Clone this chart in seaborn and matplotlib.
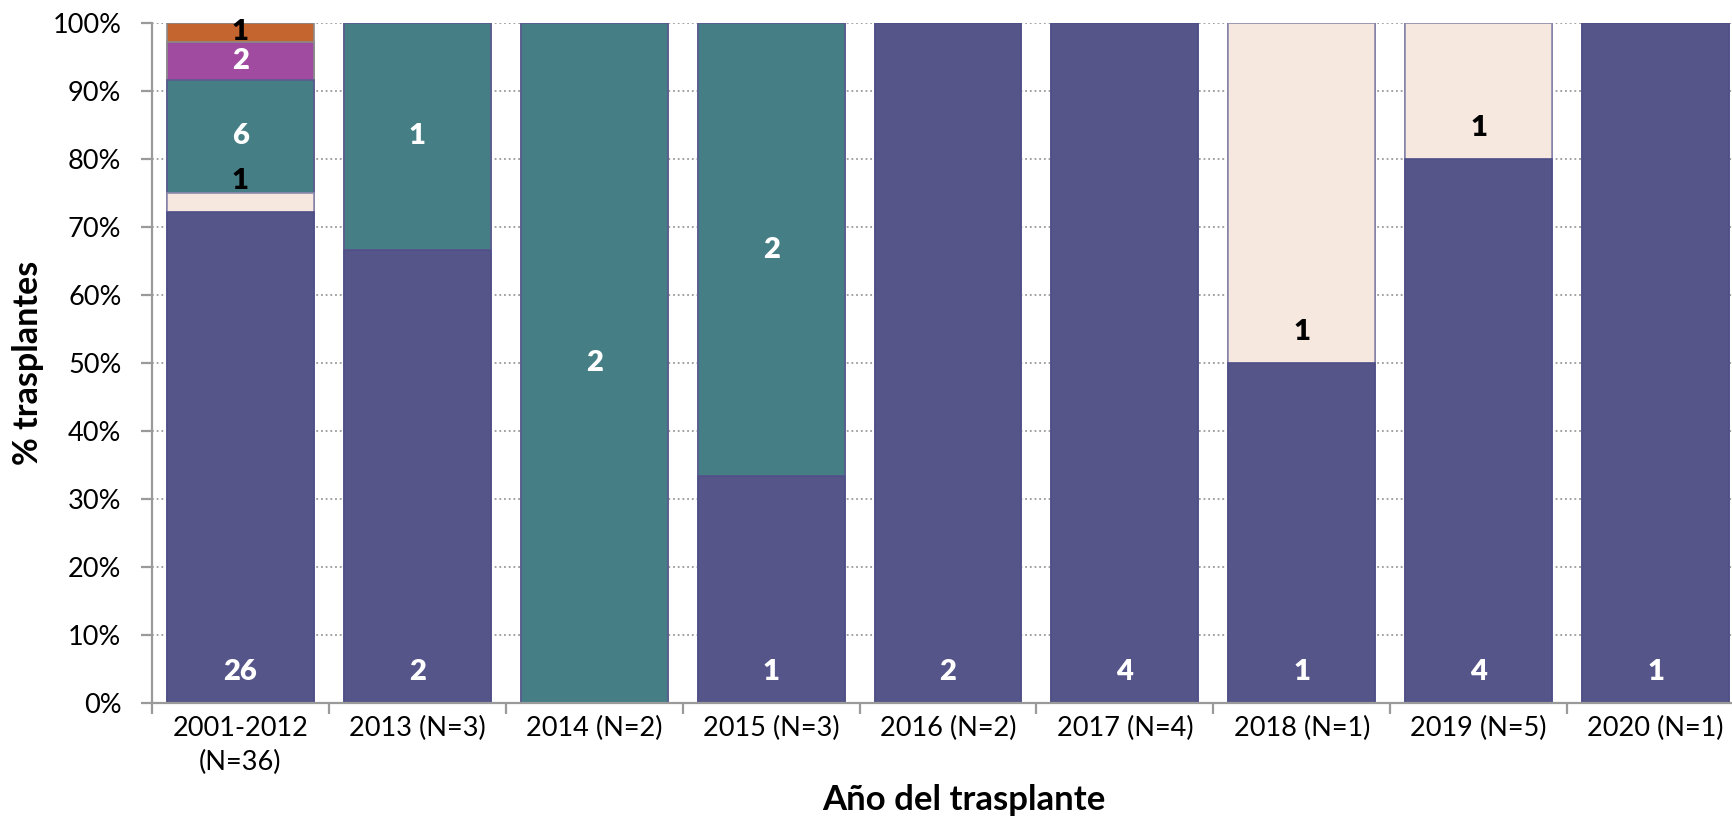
import numpy as np
import pandas as pd
import seaborn as sns
import matplotlib.pyplot as plt
from matplotlib.ticker import FixedLocator, PercentFormatter

# Transplants per period, split into five groups (stacked bottom -> top)
categorias = ["2001-2012\n(N=36)", "2013 (N=3)", "2014 (N=2)", "2015 (N=3)",
              "2016 (N=2)", "2017 (N=4)", "2018 (N=1)", "2019 (N=5)", "2020 (N=1)"]
grupo_1 = [26, 2, 0, 1, 2, 4, 1, 4, 1]
grupo_2 = [1, 0, 0, 0, 0, 0, 1, 1, 0]
grupo_3 = [6, 1, 2, 2, 0, 0, 0, 0, 0]
grupo_4 = [2, 0, 0, 0, 0, 0, 0, 0, 0]
grupo_5 = [1, 0, 0, 0, 0, 0, 0, 0, 0]

sns.set_theme(style="white")
plt.rcParams['font.family'] = ['Lato', 'DejaVu Sans']

series = [grupo_1, grupo_2, grupo_3, grupo_4, grupo_5]
colores = ["#55558A", "#F6E7DF", "#457F85", "#A04BA0", "#C4652F"]
bordes = ["#4E4E88", "#8E8AAE", "#5A5A92", "#8A8A8A", "#8A8A8A"]
color_texto = ["white", "black", "white", "white", "black"]
posicion = ["base", "base", "centro", "centro", "centro"]

conteos = np.array(series, dtype=float)
total = conteos.sum(axis=0)
pct = conteos / total * 100
acum = np.cumsum(pct, axis=0)

fig = plt.figure(figsize=(17.33, 8.17), dpi=100)
ax = fig.add_axes([152 / 1733, 114 / 817, 1592 / 1733, 680 / 817])

# Stack by overlaying cumulative layers, from the top group down
for i in reversed(range(len(series))):
    df = pd.DataFrame({"cat": categorias, "valor": acum[i]})
    sns.barplot(data=df, x="cat", y="valor", order=categorias, color=colores[i],
                saturation=1, width=0.83, edgecolor=bordes[i], linewidth=1.2,
                ax=ax, zorder=2)

# Count labels inside each segment
for i in range(len(series)):
    base = acum[i - 1] if i > 0 else np.zeros(len(categorias))
    for j in range(len(categorias)):
        n = conteos[i, j]
        if n <= 0:
            continue
        if posicion[i] == "base":
            y = base[j] + 4.5
        else:
            y = base[j] + pct[i, j] / 2
        ax.text(j, y, f"{int(n)}", ha="center", va="center", color=color_texto[i],
                fontsize=21, fontweight="heavy", zorder=5)

ax.set_xlim(-0.5, len(categorias) - 0.5)
ax.set_ylim(0, 100)
ax.yaxis.set_major_locator(FixedLocator(np.arange(0, 101, 10)))
ax.yaxis.set_major_formatter(PercentFormatter(decimals=0))

# Dotted horizontal grid behind the bars
ax.set_axisbelow(True)
ax.yaxis.grid(True, linestyle=(0, (1, 1.6)), color="#9A9A9A", linewidth=1.3)
ax.xaxis.grid(False)

for s in ["top", "right"]:
    ax.spines[s].set_visible(False)
for s in ["left", "bottom"]:
    ax.spines[s].set_color("#9A9A9A")
    ax.spines[s].set_linewidth(1.6)

ax.tick_params(axis="y", which="major", direction="out", length=8, width=1.6,
               color="#9A9A9A", pad=14, labelsize=19.5, labelcolor="black", left=True)
ax.tick_params(axis="x", which="major", length=0, pad=9, labelsize=19.5,
               labelcolor="black")
for lbl in ax.get_xticklabels():
    lbl.set_linespacing(1.45)
ax.xaxis.set_minor_locator(FixedLocator(np.arange(-0.5, len(categorias), 1.0)))
ax.tick_params(axis="x", which="minor", direction="out", length=8, width=1.6,
               color="#9A9A9A", bottom=True)

ax.set_xlabel("Año del trasplante", fontsize=25, fontweight="bold", color="black")
ax.xaxis.label.set_va("center")
ax.xaxis.set_label_coords(0.51, -0.142)
ax.set_ylabel("% trasplantes", fontsize=24.5, fontweight="bold", color="black")
ax.yaxis.set_label_coords(-0.068, 0.5)

fig.savefig("out.png", dpi=100)
